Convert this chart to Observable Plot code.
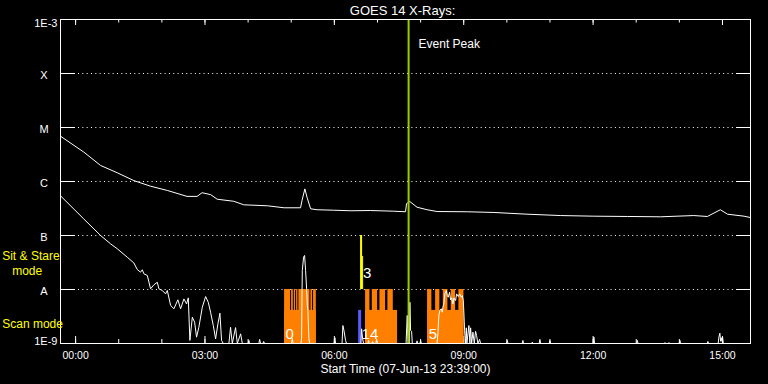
<!DOCTYPE html>
<html>
<head>
<meta charset="utf-8">
<script src="https://cdn.jsdelivr.net/npm/d3@7"></script>
<script src="https://cdn.jsdelivr.net/npm/@observablehq/plot@0.6"></script>
<style>
html,body{margin:0;padding:0;background:#000;}
#chart svg{display:block;}
</style>
</head>
<body>
<div id="chart"></div>
<script>
// ---------- data (time in minutes from 08-Jun-13 00:00 UT; flux in W/m^2) ----------
const title = "GOES 14 X-Rays:";
const xLabel = "Start Time (07-Jun-13 23:39:00)";
const timeDomain = [-21, 939];
const xTickMinutes = [0, 180, 360, 540, 720, 900];
const xTickLabels = ["00:00", "03:00", "06:00", "09:00", "12:00", "15:00"];
const xMinorMinutes = [0, 60, 120, 180, 240, 300, 360, 420, 480, 540, 600, 660, 720, 780, 840, 900];
const fluxDomain = [1e-9, 1e-3];
const classFlux = [1e-4, 1e-5, 1e-6, 1e-7, 1e-8];
const classLabels = ["X", "M", "C", "B", "A"];
const edgeLabels = ["1E-3", "1E-9"];

// GOES long channel (1-8 A)
const longChannel = [
  [-21, 6.9e-6], [11.5, 3.5e-6], [34.8, 1.98e-6], [58, 1.45e-6], [81, 1.04e-6],
  [104, 8.2e-7], [128, 6.8e-7], [155, 5.3e-7], [169, 5.3e-7], [176, 6.2e-7],
  [188, 5.7e-7], [197, 4.7e-7], [220, 4.3e-7], [234, 3.7e-7], [267, 3.55e-7],
  [290, 3.26e-7], [313, 3.26e-7], [315, 4.45e-7], [319, 7.3e-7], [322, 5.1e-7],
  [327, 3.12e-7], [336, 3.0e-7], [359, 2.94e-7], [383, 2.87e-7], [410, 2.9e-7],
  [442, 2.82e-7], [459, 2.75e-7], [460.5, 3.9e-7], [465, 4.26e-7], [475, 3.34e-7],
  [489, 3.0e-7], [503, 2.78e-7], [545, 2.75e-7], [582, 2.67e-7], [628, 2.48e-7],
  [675, 2.34e-7], [721, 2.28e-7], [768, 2.25e-7], [814, 2.22e-7], [860, 2.34e-7],
  [879, 2.25e-7], [897, 3.0e-7], [907, 2.48e-7], [930, 2.28e-7], [939, 2.15e-7]
];

// GOES short channel (0.5-4 A)
const shortChannel = [
  [-21, 5.43e-7], [11.5, 2.02e-7], [34.8, 1.0e-7], [48.7, 7.0e-8], [58, 5.68e-8],
  [71.9, 3.96e-8], [81.1, 3.1e-8], [85.8, 2.34e-8], [90.4, 2.09e-8], [92.8, 2.32e-8],
  [95, 1.95e-8], [99.8, 1.82e-8], [104.3, 1.03e-8], [108.9, 1.22e-8], [113.7, 1.36e-8],
  [115.9, 1.03e-8], [120.6, 9.6e-9], [125.2, 8.3e-9], [127.6, 9.6e-9], [132.2, 5.06e-9],
  [136.8, 4.4e-9], [142.3, 6.45e-9], [146.1, 4.4e-9], [150.7, 6.7e-9], [154.4, 5.4e-9],
  [156.8, 7.0e-9], [159, 1.14e-9], [162.4, 3.07e-9], [165.6, 2.48e-9], [168.3, 1.31e-9],
  [171.5, 2.0e-9], [176.3, 4.7e-9], [180.9, 7.4e-9], [184.6, 5.8e-9], [187.8, 3.8e-9],
  [191.6, 2.15e-9], [194.8, 1.22e-9], [198, 2.3e-9], [200.8, 3.64e-9], [203.1, 1.14e-9],
  [205.5, 1e-9], [213.3, 1e-9], [215.6, 2.0e-9], [218, 1e-9], [222.6, 1.97e-9],
  [225, 1e-9], [229.6, 1.51e-9], [232, 1e-9], [240, 1e-9], [241.1, 1.14e-9],
  [242, 1e-9], [255, 1e-9], [256, 1.19e-9], [257.4, 1e-9], [260.6, 1e-9],
  [261.6, 1.09e-9], [263, 1e-9], [300.5, 1e-9], [301.5, 1.24e-9], [302.6, 1e-9],
  [313.5, 1e-9], [314.4, 1.24e-9], [315.4, 2.25e-8], [317.2, 3.97e-8], [318.6, 4.27e-8],
  [320, 2.25e-8], [321.4, 1.03e-8], [322.4, 5.06e-9], [323.2, 4.1e-9], [324.6, 1.22e-9],
  [325.6, 1e-9], [359.6, 1e-9], [360.8, 1.28e-9], [361.7, 1e-9], [370.7, 1e-9],
  [371.9, 2.15e-9], [373.3, 1.76e-9], [375.6, 1.14e-9], [377, 1e-9], [396.9, 1e-9],
  [397.9, 1.87e-9], [399.3, 1.24e-9], [400.7, 1e-9], [406.7, 1e-9], [407.6, 1.14e-9],
  [408.6, 1e-9], [412.2, 1e-9], [413.2, 1.09e-9], [414.6, 1e-9], [417.8, 1e-9],
  [418.8, 1.19e-9], [420.2, 1e-9], [459.8, 1e-9], [461.4, 3.3e-9], [462.6, 1e-9],
  [464.4, 1e-9], [465.1, 5.8e-9], [466.1, 1.74e-9], [467.5, 1.68e-9], [468.5, 1e-9],
  [474.3, 1e-9], [475.1, 1.12e-9], [475.8, 1e-9], [479, 1e-9], [480, 1.14e-9],
  [481, 1e-9], [502.8, 1e-9], [504.1, 1.51e-9], [505.4, 3.3e-9], [506.8, 4.1e-9],
  [508.8, 4.4e-9], [510.2, 3.8e-9], [511, 4.7e-9], [512.4, 5.43e-9], [513.8, 8.3e-9],
  [515.8, 9.6e-9], [517.2, 7.7e-9], [518.5, 7.2e-9], [520.3, 8.9e-9], [521.7, 6.45e-9],
  [523.1, 7.0e-9], [524.9, 5.43e-9], [526.3, 7.0e-9], [528.7, 6.25e-9], [530.1, 8.3e-9],
  [532.5, 7.4e-9], [534.3, 8.3e-9], [536.6, 7.2e-9], [538, 7.7e-9], [539.4, 6.25e-9],
  [540.3, 3.55e-9], [541.2, 1.74e-9], [542.6, 1e-9], [543.6, 1.95e-9], [544.4, 1e-9],
  [547.2, 2.15e-9], [548.6, 1e-9], [549.6, 1.95e-9], [551, 1e-9], [552.8, 1.62e-9],
  [554.7, 1e-9], [556.5, 1.68e-9], [557.9, 1.4e-9], [559.7, 1e-9], [562.1, 1.19e-9],
  [563.5, 1e-9], [599.6, 1e-9], [600.6, 1.14e-9], [601.6, 1e-9], [621.3, 1e-9],
  [622.3, 1.14e-9], [623.3, 1e-9], [634.4, 1e-9], [635.4, 1.06e-9], [636.4, 1e-9],
  [645, 1e-9], [646, 1.19e-9], [647, 1e-9], [658.9, 1e-9], [659.9, 1.14e-9],
  [660.9, 1e-9], [720.1, 1e-9], [721.1, 1.31e-9], [722.1, 1e-9], [780.5, 1e-9],
  [781.5, 1.14e-9], [782.5, 1e-9], [818.9, 1e-9], [819.9, 1.04e-9], [820.9, 1e-9],
  [824.5, 1e-9], [825.5, 1.04e-9], [826.5, 1e-9], [839.8, 1e-9], [840.8, 1.14e-9],
  [841.8, 1e-9], [878.7, 1e-9], [879.7, 1.09e-9], [880.7, 1e-9], [894, 1e-9],
  [895, 1.31e-9], [896.4, 1.55e-9], [897.4, 1.1e-9], [898.4, 1.28e-9], [899.3, 1.1e-9],
  [900.2, 1.31e-9], [901.2, 1e-9], [939, 1e-9]
];

// Scan-mode observation blocks [start, end] (minutes)
const scanLevels = {base: 1e-9, low: 4.1e-9, high: 1e-8};
const scanBlocks = [[290.8, 334.9], [403.5, 448.0], [489.7, 540.3]];
const scanHighBars = [
  [290.8, 299.1], [300.5, 302.9], [304.3, 306.1], [307.5, 309.3], [310.7, 326.0],
  [327.4, 329.7], [331.1, 334.9],
  [403.5, 409.5], [412.8, 420.2], [423.4, 431.3], [434.5, 442.0],
  [489.7, 495.7], [500.9, 506.8], [511.6, 518.0], [522.7, 528.7], [533.3, 540.3]
];
const scanBlueBars = [[393.8, 398.0]];
const scanCountTimes = [292.2, 397.9, 491.5];
const scanCounts = ["0", "14", "5"];

// Sit & stare observations
const sitLevels = {base: 1e-8, low: 4.1e-8, high: 1e-7};
const sitHighBars = [[396.5, 399.3]];
const sitLowBars = [[399.3, 400.7]];
const sitCountTimes = [399.7];
const sitCounts = ["3"];

const eventPeakTime = [463.3];
const eventPeakLabel = "Event Peak";
const sitStareLabel = "Sit & Stare\n\u00a0\u00a0\u00a0mode";
const scanLabel = "Scan mode";

// ---------- chart ----------
const W = 768, H = 384;
const mL = 60, mR = 18, mT = 19, mB = 41;
const fw = W - mL - mR, fh = H - mT - mB;
const WHITE = "#ffffff", ORANGE = "#ff8000", YELLOW = "#ffff00", BLUE = "#5a5aff", GREEN = "#9ccc00";
const rectOf = (a) => a.map(([s, e]) => ({s, e}));

const chart = Plot.plot({
  width: W, height: H,
  marginLeft: mL, marginRight: mR, marginTop: mT, marginBottom: mB,
  style: {background: "#000", color: WHITE, fontFamily: "'Liberation Sans', Arial, sans-serif"},
  x: {domain: timeDomain, axis: null},
  y: {type: "log", domain: fluxDomain, axis: null},
  marks: [
    // dotted grid + inward ticks at each class level
    Plot.ruleY(classFlux, {stroke: WHITE, strokeDasharray: "1,3.33", insetLeft: 18, insetRight: 17}),
    Plot.ruleY(classFlux, {stroke: WHITE, insetRight: fw - 15}),
    Plot.ruleY(classFlux, {stroke: WHITE, insetLeft: fw - 14}),
    // x ticks top & bottom
    Plot.ruleX(xMinorMinutes, {stroke: WHITE, insetBottom: fh - 3.5}),
    Plot.ruleX(xTickMinutes, {stroke: WHITE, insetBottom: fh - 6}),
    Plot.ruleX(xMinorMinutes, {stroke: WHITE, insetTop: fh - 4}),
    Plot.ruleX(xTickMinutes, {stroke: WHITE, insetTop: fh - 7}),
    // scan-mode blocks
    Plot.rect(rectOf(scanBlocks), {x1: "s", x2: "e", y1: scanLevels.base, y2: scanLevels.low, fill: ORANGE}),
    Plot.rect(rectOf(scanHighBars), {x1: "s", x2: "e", y1: scanLevels.base, y2: scanLevels.high, fill: ORANGE}),
    Plot.rect(rectOf(scanBlueBars), {x1: "s", x2: "e", y1: scanLevels.base, y2: scanLevels.low, fill: BLUE}),
    // sit & stare
    Plot.rect(rectOf(sitHighBars), {x1: "s", x2: "e", y1: sitLevels.base, y2: sitLevels.high, fill: YELLOW}),
    Plot.rect(rectOf(sitLowBars), {x1: "s", x2: "e", y1: sitLevels.base, y2: sitLevels.low, fill: YELLOW}),
    // light curves
    Plot.line(longChannel, {x: d => d[0], y: d => d[1], stroke: WHITE, strokeWidth: 1}),
    Plot.line(shortChannel, {x: d => d[0], y: d => d[1], stroke: WHITE, strokeWidth: 1}),
    // event peak
    Plot.ruleX(eventPeakTime, {stroke: GREEN, strokeWidth: 2}),
    Plot.text(eventPeakTime, {x: d => d, text: () => eventPeakLabel, frameAnchor: "top", textAnchor: "start",
      lineAnchor: "bottom", dx: 10, dy: 28.3, fontSize: 12, fill: WHITE}),
    // counts
    Plot.text(scanCountTimes, {x: d => d, y: scanLevels.base, text: (d, i) => scanCounts[i], textAnchor: "start",
      lineAnchor: "bottom", dy: -4.7, fontSize: 15, fill: WHITE}),
    Plot.text(sitCountTimes, {x: d => d, y: sitLevels.base, text: (d, i) => sitCounts[i], textAnchor: "start",
      lineAnchor: "bottom", dy: -11.3, fontSize: 15, fill: WHITE}),
    // frame
    Plot.frame({stroke: WHITE}),
    // y labels
    Plot.text(classFlux, {y: d => d, text: (d, i) => classLabels[i], frameAnchor: "left", textAnchor: "middle",
      lineAnchor: "bottom", dx: -16.5, dy: 5, fontSize: 11, fill: WHITE}),
    Plot.text([edgeLabels[0]], {y: fluxDomain[1], text: d => d, frameAnchor: "left", textAnchor: "end",
      lineAnchor: "top", dx: -3, dy: 0, fontSize: 11, fill: WHITE}),
    Plot.text([edgeLabels[1]], {y: fluxDomain[0], text: d => d, frameAnchor: "left", textAnchor: "end",
      lineAnchor: "bottom", dx: -3, dy: 1, fontSize: 11, fill: WHITE}),
    // mode labels
    Plot.text([sitStareLabel], {text: d => d, frameAnchor: "bottom-left", textAnchor: "start", lineAnchor: "bottom",
      lineHeight: 1.17, dx: -58.3, dy: -69, fontSize: 12, fill: YELLOW}),
    Plot.text([scanLabel], {text: d => d, frameAnchor: "bottom-left", textAnchor: "start", lineAnchor: "bottom",
      dx: -58.3, dy: -15.3, fontSize: 12, fill: YELLOW}),
    // x tick labels
    Plot.text(xTickMinutes, {x: d => d, text: (d, i) => xTickLabels[i], frameAnchor: "bottom", lineAnchor: "bottom",
      dy: 15.3, fontSize: 10.5, fill: WHITE}),
    // x label & title
    Plot.text([xLabel], {text: d => d, frameAnchor: "bottom", lineAnchor: "bottom", dy: 29, fontSize: 12, fill: WHITE}),
    Plot.text([title], {text: d => d, frameAnchor: "top", lineAnchor: "bottom", dx: -3, dy: -5, fontSize: 13, fill: WHITE})
  ]
});
document.getElementById("chart").appendChild(chart);
</script>
</body>
</html>
